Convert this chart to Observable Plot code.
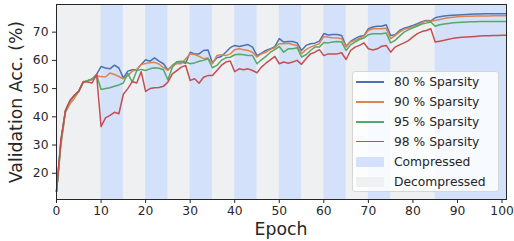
<!DOCTYPE html>
<html>
<head>
<meta charset="utf-8">
<script src="https://cdn.jsdelivr.net/npm/d3@7"></script>
<script src="https://cdn.jsdelivr.net/npm/@observablehq/plot@0.6"></script>
<style>
  html, body { margin: 0; padding: 0; background: #fff; }
  #wrap { position: relative; width: 514px; height: 241px; font-family: "DejaVu Sans", sans-serif; color: #262626; }
  #wrap svg { position: absolute; left: 0; top: 0; }
  #legend {
    position: absolute; left: 352px; top: 70.5px; width: 147px; height: 121px;
    background: rgba(255,255,255,0.82); border: 1px solid #d6d6d6; border-radius: 3px;
    box-sizing: border-box; font-size: 12.3px;
  }
  .row { position: absolute; left: 0; height: 20px; display: flex; align-items: center; white-space: nowrap; }
  .sw { width: 28px; margin-left: 3px; margin-right: 10px; }
  .ln { height: 1.6px; }
  .pt { height: 10px; }
  .axlabel { position: absolute; font-size: 17.3px; white-space: nowrap; line-height: 1; }
  #xlab { left: 281px; top: 230px; transform: translate(-50%, -50%); }
  #ylab { left: 17px; top: 102px; transform: translate(-50%, -50%) rotate(-90deg); }
</style>
</head>
<body>
<div id="wrap"></div>
<script>
const seriesNames = ["80 % Sparsity", "90 % Sparsity", "95 % Sparsity", "98 % Sparsity"];
const seriesColors = ["#4C72B0", "#DD8452", "#55A868", "#C44E52"];
const bandNames = ["Compressed", "Decompressed"];
const bandColors = ["#d3e2fa", "#eff0f2"];
const compressedStart = [10, 20, 30, 40, 50, 60, 70, 85];
const compressedEnd   = [15, 25, 35, 45, 55, 65, 75, 101];
const xTicks = [0, 10, 20, 30, 40, 50, 60, 70, 80, 90, 100];
const yTicks = [20, 30, 40, 50, 60, 70];
const xLabel = "Epoch";
const yLabel = "Validation Acc. (%)";

const acc80 = [13.5,31.5,42.2,45.5,47.5,49.0,52.3,52.8,53.3,55.0,
  57.8,57.3,57.0,58.3,57.3,53.8,56.2,56.7,56.7,58.5,
  60.2,59.7,60.9,59.7,58.8,56.6,58.2,59.4,59.4,59.0,
  62.9,62.3,62.3,63.5,63.7,59.1,60.9,61.4,62.9,64.5,
  65.3,64.9,65.3,65.6,64.7,61.7,62.6,63.5,64.1,64.9,
  67.7,66.5,66.7,66.7,66.2,63.5,65.3,65.9,66.1,66.8,
  69.5,69.0,69.2,69.2,68.8,65.0,66.7,67.7,68.5,68.8,
  71.2,71.8,72.1,72.1,72.6,68.8,69.1,70.6,71.4,71.8,
  72.4,73.0,73.7,74.1,74.0,75.1,75.5,75.7,75.9,76.0,
  76.1,76.2,76.3,76.35,76.4,76.45,76.5,76.5,76.5,76.5,76.5,76.5];
const acc90 = [13.5,30.0,41.5,44.5,46.5,49.0,52.3,52.8,53.2,54.5,
  54.3,54.1,55.5,55.0,54.3,53.5,54.6,56.2,56.7,58.5,
  58.9,59.2,59.3,58.7,57.4,56.5,58.2,58.8,58.8,60.6,
  62.3,62.1,61.4,60.6,60.8,58.8,61.7,62.0,61.7,62.3,
  63.8,64.1,63.8,63.5,62.9,61.2,62.3,62.9,63.9,64.5,
  65.9,65.9,66.1,65.6,65.3,62.3,63.8,64.7,65.3,65.9,
  68.5,68.2,68.0,67.9,67.7,64.7,66.5,67.1,67.9,68.6,
  70.6,71.2,71.2,71.2,71.4,67.7,68.8,70.0,71.0,71.4,
  71.9,72.5,73.4,73.9,73.9,74.1,74.5,74.8,75.1,75.3,
  75.45,75.55,75.6,75.65,75.7,75.7,75.75,75.75,75.8,75.8,75.8,75.8];
const acc95 = [13.5,31.0,42.0,45.5,47.5,49.0,52.3,52.8,53.5,55.0,
  49.7,50.0,50.3,50.8,51.3,52.0,55.4,52.3,56.3,56.8,
  56.4,57.0,57.4,57.2,56.7,53.1,57.6,59.5,59.7,59.4,
  58.8,59.1,59.7,60.0,60.6,57.4,58.2,60.0,60.9,61.1,
  62.0,62.2,62.0,61.7,61.7,58.8,60.2,61.4,62.9,63.8,
  64.9,62.9,64.1,64.1,64.5,61.2,62.0,63.5,64.7,64.7,
  66.3,66.2,66.5,66.7,66.5,63.5,65.5,66.5,67.4,67.9,
  69.1,69.4,69.4,69.4,69.7,66.2,67.1,68.6,70.0,70.8,
  71.5,72.2,72.9,73.2,73.6,72.1,72.6,72.9,73.1,73.3,
  73.4,73.5,73.6,73.65,73.7,73.75,73.8,73.8,73.8,73.8,73.8,73.8];
const acc98 = [13.5,32.0,42.2,45.8,47.6,49.1,52.5,52.3,52.0,55.0,
  36.5,39.6,40.5,41.6,41.1,48.0,50.0,52.5,52.0,56.0,
  49.0,50.0,50.3,50.4,50.8,52.3,55.2,56.4,57.6,58.2,
  52.9,53.5,51.9,54.0,54.6,54.6,56.4,58.2,59.4,59.8,
  56.0,57.0,56.7,57.0,56.4,55.6,57.6,59.0,60.2,61.4,
  58.8,59.4,59.0,59.4,60.0,58.6,60.6,62.3,62.9,63.8,
  61.7,62.3,62.3,62.3,62.7,60.3,63.5,64.7,65.3,66.2,
  64.1,63.7,64.1,65.0,65.3,62.9,64.7,65.5,66.2,67.0,
  68.3,69.5,70.2,70.6,71.2,66.5,66.8,67.1,67.5,67.8,
  68.0,68.2,68.3,68.4,68.5,68.6,68.7,68.7,68.8,68.8,68.9,68.9];

const allSeries = [acc80, acc90, acc95, acc98];
const table = [];
allSeries.forEach((arr, s) => arr.forEach((v, i) => table.push({epoch: i, acc: v, series: seriesNames[s]})));
const bands = compressedStart.map((s, i) => ({x1: s, x2: compressedEnd[i]}));

const ink = "#262626";
const chart = Plot.plot({
  width: 514,
  height: 241,
  marginLeft: 56,
  marginRight: 8,
  marginTop: 4,
  marginBottom: 42,
  style: {fontFamily: "DejaVu Sans, sans-serif", fontSize: "12.3px", color: ink, background: "transparent"},
  x: {domain: [0, 101]},
  y: {domain: [10.7, 79.8]},
  color: {domain: seriesNames, range: seriesColors},
  marks: [
    Plot.frame({fill: bandColors[1], stroke: null}),
    Plot.rect(bands, {x1: "x1", x2: "x2", fill: bandColors[0]}),
    Plot.line(table, {x: "epoch", y: "acc", stroke: "series", z: "series", strokeWidth: 1.5}),
    Plot.frame({stroke: ink, strokeWidth: 1}),
    Plot.axisX({ticks: xTicks, tickSize: 4, tickPadding: 3, label: null, fontSize: 12.3, stroke: ink}),
    Plot.axisY({ticks: yTicks, tickSize: 4, tickPadding: 4, label: null, fontSize: 12.3, stroke: ink})
  ]
});
const wrap = document.getElementById("wrap");
wrap.appendChild(chart);

const xl = document.createElement("div");
xl.className = "axlabel"; xl.id = "xlab"; xl.textContent = xLabel;
const yl = document.createElement("div");
yl.className = "axlabel"; yl.id = "ylab"; yl.textContent = yLabel;
wrap.appendChild(xl);
wrap.appendChild(yl);

const legend = document.createElement("div");
legend.id = "legend";
const items = seriesNames.map((n, i) => ({label: n, color: seriesColors[i], kind: "ln"}))
  .concat(bandNames.map((n, i) => ({label: n, color: bandColors[i], kind: "pt"})));
items.forEach((it, i) => {
  const row = document.createElement("div");
  row.className = "row";
  row.style.top = (0.5 + i * 19.9) + "px";
  const sw = document.createElement("div");
  sw.className = "sw " + it.kind;
  sw.style.background = it.color;
  const tx = document.createElement("span");
  tx.textContent = it.label;
  row.appendChild(sw);
  row.appendChild(tx);
  legend.appendChild(row);
});
wrap.appendChild(legend);
</script>
</body>
</html>
